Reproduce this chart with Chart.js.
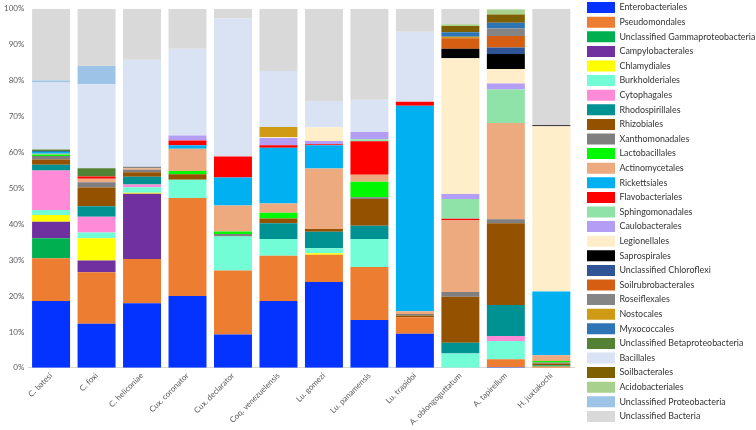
<!DOCTYPE html>
<html>
<head>
<meta charset="utf-8">
<script src="https://cdn.jsdelivr.net/npm/chart.js@4.4.0/dist/chart.umd.min.js"></script>
<style>
  body { margin: 0; background: #fff; }
</style>
</head>
<body>
<canvas id="myChart" width="756" height="430"></canvas>
<script>
// categories (species)
const categories = ['C. batesi', 'C. foxi', 'C. heliconiae', 'Cux. coronator', 'Cux. declarator',
    'Coq. venezuelensis', 'Lu. gomezi', 'Lu. panamensis', 'Lu. trapidoi',
    'A. oblongoguttatum', 'A. tapirellum', 'H. juxtakochi'];

// relative abundance (%) per order, one value per species
const enterobacteriales = [18.6, 12.3, 18.0, 20.0, 9.3, 18.6, 23.9, 13.3, 9.5, 0, 0.2, 0];
const pseudomondales = [11.9, 14.3, 12.3, 27.3, 17.8, 12.6, 7.6, 14.8, 4.6, 0, 2.2, 0.4];
const unclGammaproteobacteria = [5.6, 0, 0, 0, 0, 0, 0, 0, 0, 0, 0, 0.3];
const campylobacterales = [4.6, 3.3, 18.2, 0, 0, 0, 0, 0, 0, 0, 0, 0];
const chlamydiales = [1.9, 6.2, 0.3, 0, 0, 0, 0.4, 0, 0, 0, 0, 0];
const burkholderiales = [1.4, 1.6, 1.5, 5.1, 9.5, 4.7, 1.4, 7.8, 0, 4.0, 5.1, 0];
const cytophagales = [11.0, 4.4, 0.8, 0, 0, 0, 0, 0, 0, 0, 1.4, 0];
const rhodospirillales = [1.6, 2.9, 2.1, 0, 0, 4.4, 4.6, 3.7, 0, 3.0, 8.6, 0];
const rhizobiales = [1.4, 5.2, 1.3, 1.5, 0, 1.3, 0.8, 7.4, 0.5, 12.8, 22.8, 0.5];
const xanthomonadales = [1.0, 1.5, 0.7, 0, 0.7, 0, 0, 0.5, 0.4, 1.3, 1.1, 0.3];
const lactobacillales = [0.4, 0, 0, 0.9, 0.7, 1.6, 0, 4.3, 0, 0, 0, 0.4];
const actinomycetales = [0.2, 1.0, 0.4, 6.2, 7.2, 2.6, 16.8, 2.0, 0.8, 20.1, 26.8, 1.6];
const rickettsiales = [0.5, 0, 0, 1.0, 7.8, 15.5, 6.5, 0, 57.2, 0, 0, 17.8];
const flavobacteriales = [0, 0.6, 0, 1.3, 5.9, 0.7, 0.3, 9.3, 1.1, 0.3, 0, 0];
const sphingomonadales = [0, 0, 0, 0, 0, 0, 0, 0.6, 0, 5.5, 9.3, 0];
const caulobacterales = [0, 0, 0, 1.4, 0, 2.0, 0.9, 2.0, 0, 1.4, 1.7, 0];
const legionellales = [0, 0, 0, 0, 0, 0.3, 3.8, 0, 0, 37.8, 4.0, 46.0];
const saprospirales = [0, 0, 0, 0, 0, 0, 0, 0, 0, 2.7, 4.2, 0.3];
const unclChloroflexi = [0, 0, 0, 0, 0, 0, 0, 0, 0, 0, 1.8, 0];
const soilrubrobacterales = [0, 0, 0, 0, 0, 0, 0, 0, 0, 2.9, 3.2, 0];
const roseiflexales = [0, 0, 0.4, 0, 0, 0, 0, 0, 0, 0, 2.1, 0];
const nostocales = [0, 0, 0, 0, 0, 2.8, 0, 0, 0, 0.4, 0, 0];
const myxococcales = [0.3, 0, 0, 0, 0, 0, 0, 0, 0, 1.3, 1.6, 0];
const unclBetaproteobacteria = [0.4, 2.3, 0, 0, 0, 0, 0, 0, 0, 0, 0, 0];
const bacillales = [18.7, 23.4, 29.8, 24.2, 38.4, 15.6, 7.3, 9.0, 19.5, 0, 0, 0];
const soilbacterales = [0, 0, 0, 0, 0, 0, 0, 0, 0, 1.7, 2.3, 0];
const acidobacteriales = [0, 0, 0, 0, 0, 0, 0, 0, 0, 0.5, 1.4, 0];
const unclProteobacteria = [0.5, 5.1, 0, 0, 0, 0, 0, 0, 0, 0, 0, 0];
const unclBacteria = [20.0, 15.9, 14.2, 11.1, 2.7, 17.3, 25.7, 25.3, 6.4, 4.3, 0.2, 32.4];

const yTicks = [0, 10, 20, 30, 40, 50, 60, 70, 80, 90, 100];

const series = [
    ['Enterobacteriales', enterobacteriales, '#0433FF'],
    ['Pseudomondales', pseudomondales, '#ED7D31'],
    ['Unclassified Gammaproteobacteria', unclGammaproteobacteria, '#00B050'],
    ['Campylobacterales', campylobacterales, '#7030A0'],
    ['Chlamydiales', chlamydiales, '#FFFF00'],
    ['Burkholderiales', burkholderiales, '#73FDD6'],
    ['Cytophagales', cytophagales, '#FF8AD8'],
    ['Rhodospirillales', rhodospirillales, '#009193'],
    ['Rhizobiales', rhizobiales, '#945200'],
    ['Xanthomonadales', xanthomonadales, '#7F7F7F'],
    ['Lactobacillales', lactobacillales, '#00F900'],
    ['Actinomycetales', actinomycetales, '#EDAA7F'],
    ['Rickettsiales', rickettsiales, '#00B0F0'],
    ['Flavobacteriales', flavobacteriales, '#FF0000'],
    ['Sphingomonadales', sphingomonadales, '#8FE3A8'],
    ['Caulobacterales', caulobacterales, '#B39DF5'],
    ['Legionellales', legionellales, '#FFEEC9'],
    ['Saprospirales', saprospirales, '#000000'],
    ['Unclassified Chloroflexi', unclChloroflexi, '#2F5597'],
    ['Soilrubrobacterales', soilrubrobacterales, '#D55E12'],
    ['Roseiflexales', roseiflexales, '#858585'],
    ['Nostocales', nostocales, '#CF9B14'],
    ['Myxococcales', myxococcales, '#2E75B6'],
    ['Unclassified Betaproteobacteria', unclBetaproteobacteria, '#548235'],
    ['Bacillales', bacillales, '#DAE3F3'],
    ['Soilbacterales', soilbacterales, '#7F6000'],
    ['Acidobacteriales', acidobacteriales, '#A9D18E'],
    ['Unclassified Proteobacteria', unclProteobacteria, '#9DC3E6'],
    ['Unclassified Bacteria', unclBacteria, '#D9D9D9']
];

// nudge the legend a little to the right of where the layout puts it
const legendShift = {
    id: 'legendShift',
    afterLayout(chart) {
        const lg = chart.legend;
        const dx = 587 - (lg.left + lg.options.labels.padding);
        lg.left += dx;
        lg.right += dx;
    }
};

const ctx = document.getElementById('myChart');
const chart = new Chart(ctx, {
    type: 'bar',
    data: {
        labels: categories,
        datasets: series.map(s => ({
            label: s[0],
            data: s[1],
            backgroundColor: s[2],
            borderWidth: 0,
            categoryPercentage: 1,
            barPercentage: 0.835
        }))
    },
    plugins: [legendShift],
    options: {
        responsive: false,
        animation: false,
        layout: { padding: { left: 0, top: -6 } },
        plugins: {
            tooltip: { enabled: false },
            legend: {
                position: 'right',
                labels: {
                    boxWidth: 28,
                    boxHeight: 11,
                    padding: 3.6,
                    color: '#333',
                    font: { family: 'Lato', size: 8.9 }
                }
            }
        },
        scales: {
            x: {
                stacked: true,
                grid: { display: false, drawTicks: false },
                border: { display: true, color: '#D9D9D9' },
                ticks: {
                    color: '#595959',
                    padding: 3,
                    font: { family: 'Lato', size: 8 },
                    maxRotation: 45,
                    minRotation: 45,
                    autoSkip: false
                }
            },
            y: {
                stacked: true,
                min: 0,
                max: 100,
                grid: { display: false, drawTicks: false },
                border: { display: false },
                afterBuildTicks: axis => { axis.ticks = yTicks.map(v => ({ value: v })); },
                ticks: {
                    color: '#595959',
                    padding: 4,
                    font: { family: 'Lato', size: 8 },
                    callback: v => v + '%'
                }
            }
        }
    }
});
</script>
</body>
</html>
